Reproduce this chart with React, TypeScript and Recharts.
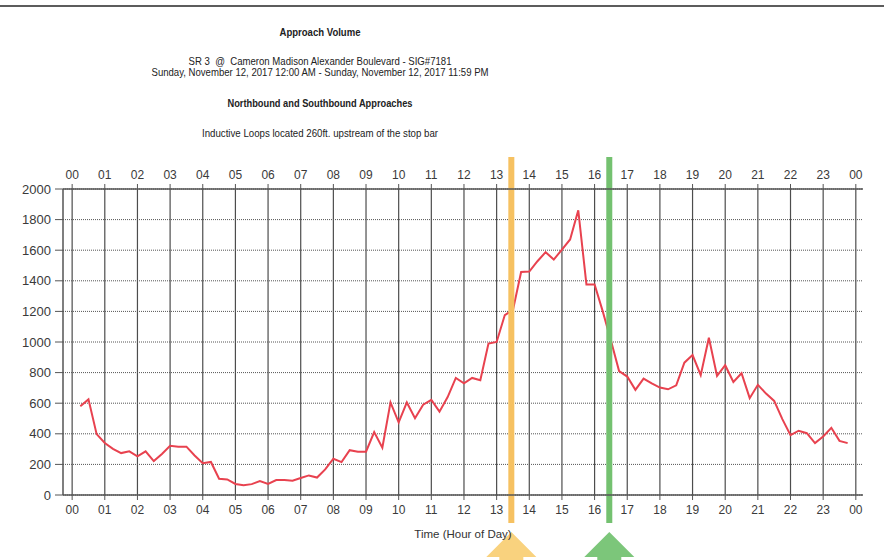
import { LineChart, Line, XAxis, YAxis, CartesianGrid, ReferenceLine } from "recharts";

// 15-minute bins, hour of day
const times = [
  0.25, 0.5, 0.75, 1, 1.25, 1.5, 1.75, 2, 2.25, 2.5, 2.75, 3, 3.25, 3.5, 3.75, 4,
  4.25, 4.5, 4.75, 5, 5.25, 5.5, 5.75, 6, 6.25, 6.5, 6.75, 7, 7.25, 7.5, 7.75, 8,
  8.25, 8.5, 8.75, 9, 9.25, 9.5, 9.75, 10, 10.25, 10.5, 10.75, 11, 11.25, 11.5, 11.75, 12,
  12.25, 12.5, 12.75, 13, 13.25, 13.5, 13.75, 14, 14.25, 14.5, 14.75, 15, 15.25, 15.5, 15.75, 16,
  16.25, 16.5, 16.75, 17, 17.25, 17.5, 17.75, 18, 18.25, 18.5, 18.75, 19, 19.25, 19.5, 19.75, 20,
  20.25, 20.5, 20.75, 21, 21.25, 21.5, 21.75, 22, 22.25, 22.5, 22.75, 23, 23.25, 23.5, 23.75,
];

const volumes = [
  580, 625, 398, 340, 302, 274, 285, 253, 285, 222, 268, 322, 316, 316, 258, 208,
  216, 106, 102, 72, 64, 71, 91, 73, 98, 98, 93, 111, 128, 114, 167, 237,
  215, 293, 283, 283, 411, 309, 605, 475, 605, 502, 590, 622, 545, 640, 765, 730,
  765, 750, 990, 1000, 1176, 1210, 1457, 1460, 1528, 1587, 1539, 1604, 1670, 1861, 1376, 1376,
  1200, 1010, 810, 774, 687, 761, 730, 702, 691, 717, 865, 915, 783, 1028, 778, 848,
  739, 796, 633, 720, 663, 615, 496, 391, 420, 404, 339, 383, 439, 354, 339,
];

const hourTicks = [
  0, 1, 2, 3, 4, 5, 6, 7, 8, 9, 10, 11, 12, 13, 14, 15, 16, 17, 18, 19, 20, 21, 22, 23, 24,
];
const volumeTicks = [0, 200, 400, 600, 800, 1000, 1200, 1400, 1600, 1800, 2000];

// peak period markers (start / end)
const markerHours = [13.45, 16.45];
const markerLineColors = ["#f6c161", "#74c170"];
const markerArrowColors = ["#f9d27e", "#7cc67a"];

const data = times.map((hour, i) => ({ hour, volume: volumes[i] }));

const hourLabel = (h: number) => String(h % 24).padStart(2, "0");

const FONT = "'Liberation Sans', Arial, sans-serif";
const tickStyle = { fill: "#3a3a3a", fontSize: 12, fontFamily: FONT };

function MarkerShape(props: any, lineColor: string, arrowColor: string) {
  const x = props.x1;
  const top = Math.min(props.y1, props.y2);
  const bottom = Math.max(props.y1, props.y2);
  const tip = bottom + 37;
  return (
    <g>
      <rect x={x - 3} y={top - 32} width={6} height={bottom - top + 60} fill={lineColor} />
      <polygon
        points={`${x},${tip} ${x + 25},${tip + 25} ${x + 12},${tip + 25} ${x + 12},${tip + 40} ${x - 12},${tip + 40} ${x - 12},${tip + 25} ${x - 25},${tip + 25}`}
        fill={arrowColor}
      />
    </g>
  );
}

export default function App() {
  return (
    <div style={{ position: "relative", width: 884, height: 560, background: "#fff", overflow: "hidden" }}>
      <style>{"body{margin:0}"}</style>
      <div style={{ position: "absolute", left: 0, top: 5, width: 884, height: 2, background: "#5c5c5c" }} />
      <svg
        width={884}
        height={150}
        style={{ position: "absolute", left: 0, top: 0, pointerEvents: "none" }}
        fontFamily={FONT}
        fill="#222"
      >
        <text x={320} y={36} textAnchor="middle" fontSize={11} fontWeight="bold" textLength={81} lengthAdjust="spacingAndGlyphs">
          Approach Volume
        </text>
        <text x={320} y={65} textAnchor="middle" fontSize={11} textLength={263} lengthAdjust="spacingAndGlyphs" style={{ whiteSpace: "pre" }}>
          {"SR 3  @  Cameron Madison Alexander Boulevard - SIG#7181"}
        </text>
        <text x={320} y={75.5} textAnchor="middle" fontSize={11} textLength={337} lengthAdjust="spacingAndGlyphs">
          Sunday, November 12, 2017 12:00 AM - Sunday, November 12, 2017 11:59 PM
        </text>
        <text x={320} y={107} textAnchor="middle" fontSize={11} fontWeight="bold" textLength={185} lengthAdjust="spacingAndGlyphs">
          Northbound and Southbound Approaches
        </text>
        <text x={320} y={137} textAnchor="middle" fontSize={11} textLength={236} lengthAdjust="spacingAndGlyphs">
          Inductive Loops located 260ft. upstream of the stop bar
        </text>
      </svg>
      <div style={{ position: "absolute", left: 0, top: 0 }}>
        <LineChart width={884} height={560} data={data} margin={{ top: 159, right: 21, bottom: 20, left: 0 }}>
          <CartesianGrid xAxisId="bottom" horizontal={false} syncWithTicks stroke="#4d4d4d" strokeWidth={1.2} />
          <CartesianGrid xAxisId="bottom" vertical={false} syncWithTicks stroke="#555" strokeDasharray="1 1" />
          <XAxis
            xAxisId="top"
            orientation="top"
            type="number"
            dataKey="hour"
            domain={[-0.28, 24.22]}
            ticks={hourTicks}
            interval={0}
            tickFormatter={hourLabel}
            height={30}
            tickSize={5}
            tickMargin={5}
            tick={tickStyle}
            axisLine={{ stroke: "#555", strokeWidth: 1.5 }}
            tickLine={{ stroke: "#555" }}
          />
          <XAxis
            xAxisId="bottom"
            type="number"
            dataKey="hour"
            domain={[-0.28, 24.22]}
            ticks={hourTicks}
            interval={0}
            tickFormatter={hourLabel}
            height={45}
            tickSize={5}
            tickMargin={5}
            tick={tickStyle}
            axisLine={{ stroke: "#555", strokeWidth: 1.5 }}
            tickLine={{ stroke: "#555" }}
            label={{
              value: "Time (Hour of Day)",
              position: "insideBottom",
              offset: 2,
              style: { fill: "#333", fontSize: 11.5, fontFamily: FONT },
            }}
          />
          <YAxis
            width={63}
            domain={[0, 2000]}
            ticks={volumeTicks}
            interval={0}
            tickSize={8}
            tickMargin={4}
            tick={{ ...tickStyle, fontSize: 13 }}
            axisLine={{ stroke: "#555", strokeWidth: 1.5 }}
            tickLine={{ stroke: "#555" }}
          />
          <Line
            xAxisId="bottom"
            type="linear"
            dataKey="volume"
            stroke="#e8424f"
            strokeWidth={2}
            dot={false}
            isAnimationActive={false}
          />
          {markerHours.map((h, i) => (
            <ReferenceLine
              key={h}
              xAxisId="bottom"
              x={h}
              shape={(p: any) => MarkerShape(p, markerLineColors[i], markerArrowColors[i])}
            />
          ))}
        </LineChart>
      </div>
    </div>
  );
}
